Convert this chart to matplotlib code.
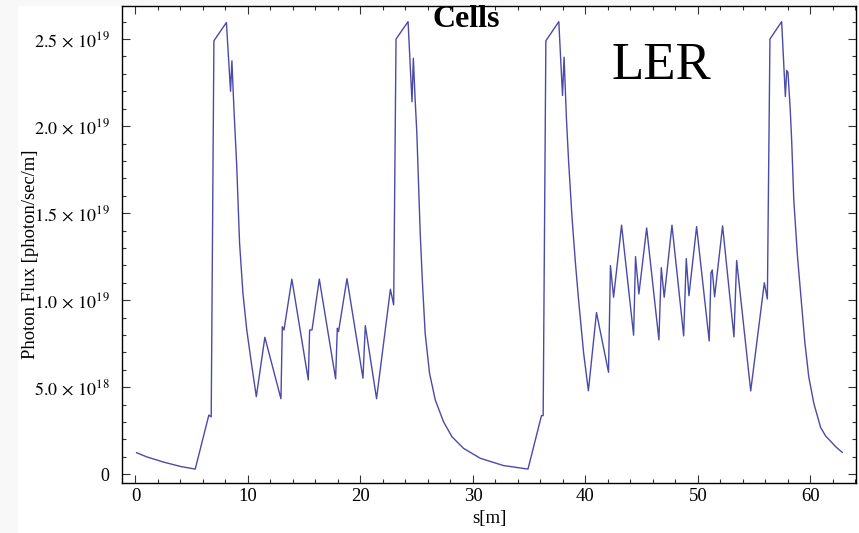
import matplotlib
matplotlib.use("Agg")
import matplotlib.pyplot as plt
from matplotlib.patches import Rectangle
from matplotlib.ticker import FixedLocator, MultipleLocator
import numpy as np

plt.rcParams['font.family'] = ['Liberation Serif', 'DejaVu Serif']
plt.rcParams['mathtext.fontset'] = 'stix'

# photon flux along the ring section, flux in units of 1e19 photon/sec/m
s_m = [0.1, 1.0, 2.5, 4.0, 5.31, 6.52, 6.73, 6.97, 8.08, 8.45, 8.57,
       8.75, 9.0, 9.25, 9.55, 9.89, 10.3, 10.74,
       11.5, 12.93, 13.05, 13.2, 13.9, 15.36, 15.48, 15.69, 16.34,
       17.79, 17.94, 18.05, 18.8, 20.22, 20.43, 21.43, 22.66, 22.95,
       23.16, 24.23, 24.58, 24.7, 24.86, 25.01, 25.16, 25.31, 25.51,
       25.75, 26.14, 26.65, 27.38, 28.13, 29.16, 30.65, 32.72, 34.89,
       36.09, 36.24, 36.48, 37.63, 37.96, 38.1, 38.31, 38.5, 38.8,
       39.1, 39.39, 39.84, 40.26, 40.98, 42.05, 42.22, 42.5, 43.21,
       44.28, 44.45, 44.75, 45.44, 46.53, 46.74, 47.0, 47.69, 48.73,
       48.96, 49.2, 49.88, 51.0, 51.16, 51.27, 51.48, 52.19, 53.2,
       53.44, 54.69, 55.9, 56.17, 56.4, 57.44, 57.77, 57.89, 58.0,
       58.2, 58.33, 58.52, 58.85, 59.18, 59.5, 59.85, 60.3, 60.9,
       61.35, 61.79, 62.3, 62.83]
flux_e19 = [0.124, 0.1, 0.07, 0.045, 0.030, 0.34, 0.33, 2.49, 2.595, 2.20, 2.375,
            2.1, 1.77, 1.33, 1.04, 0.83, 0.64, 0.446,
            0.787, 0.434, 0.848, 0.829, 1.121, 0.542, 0.829, 0.829, 1.121,
            0.548, 0.839, 0.82, 1.124, 0.552, 0.854, 0.434, 1.063, 0.973,
            2.50, 2.60, 2.14, 2.39, 2.151, 1.96, 1.672, 1.385, 1.098,
            0.81, 0.58, 0.427, 0.302, 0.216, 0.149, 0.092, 0.05, 0.030,
            0.337, 0.337, 2.49, 2.60, 2.176, 2.396, 2.04, 1.8, 1.48,
            1.22, 1.0, 0.695, 0.48, 0.929, 0.586, 1.199, 1.017, 1.431,
            0.799, 1.25, 1.036, 1.415, 0.772, 1.187, 1.017, 1.431, 0.795,
            1.239, 1.026, 1.423, 0.766, 1.157, 1.174, 1.019, 1.427, 0.789,
            1.228, 0.479, 1.10, 1.007, 2.50, 2.60, 2.17, 2.32, 2.31,
            2.1, 1.92, 1.576, 1.25, 1.0, 0.76, 0.56, 0.408, 0.27,
            0.22, 0.19, 0.155, 0.126]

ytick_vals = [0, 0.5, 1.0, 1.5, 2.0, 2.5]
ytick_labels = ['0', r'$5.0\,\times\,10^{18}$', r'$1.0\,\times\,10^{19}$',
                r'$1.5\,\times\,10^{19}$', r'$2.0\,\times\,10^{19}$',
                r'$2.5\,\times\,10^{19}$']
xtick_vals = [0, 10, 20, 30, 40, 50, 60]

fig = plt.figure(figsize=(8.59, 5.33), dpi=100)
# faint slide background on the left and top edge
fig.add_artist(Rectangle((0, 0), 17 / 859, 1, transform=fig.transFigure,
                         color='#f8f8f8', zorder=0))
fig.add_artist(Rectangle((0, 1 - 5 / 533), 1, 5 / 533, transform=fig.transFigure,
                         color='#f8f8f8', zorder=0))

ax = fig.add_axes([122 / 859, 1 - 483 / 533, 734 / 859, 477 / 533])
ax.plot(np.array(s_m), np.array(flux_e19) * 1e19, color='#4a4aa8', lw=1.0)

ax.set_xlim(-1.2, 64.05)
ax.set_ylim(-0.05e19, 2.69e19)

ax.yaxis.set_major_locator(FixedLocator([v * 1e19 for v in ytick_vals]))
ax.set_yticklabels(ytick_labels)
ax.yaxis.set_minor_locator(MultipleLocator(0.1e19))
ax.xaxis.set_major_locator(FixedLocator(xtick_vals))
ax.xaxis.set_minor_locator(MultipleLocator(2))

ax.tick_params(which='both', direction='in', top=True, right=True,
               labelsize=13.5, width=0.8, color='#333333')
ax.tick_params(which='major', length=6)
ax.tick_params(axis='y', which='major', pad=9, labelsize=13)
ax.tick_params(which='minor', length=3)
for sp in ax.spines.values():
    sp.set_linewidth(1.0)

ax.set_xlabel('s[m]', fontsize=13.5, labelpad=4)
ax.set_ylabel('Photon Flux [photon/sec/m]', fontsize=13.4)
ax.yaxis.set_label_coords(-0.113, 0.48)

fig.text(466 / 859, 1 - 27 / 533, 'Cells', fontsize=23, fontweight='bold',
         ha='center', va='baseline')
fig.text(661 / 859, 1 - 79 / 533, 'LER', fontsize=38, ha='center', va='baseline')

fig.savefig('out.png', dpi=100)
